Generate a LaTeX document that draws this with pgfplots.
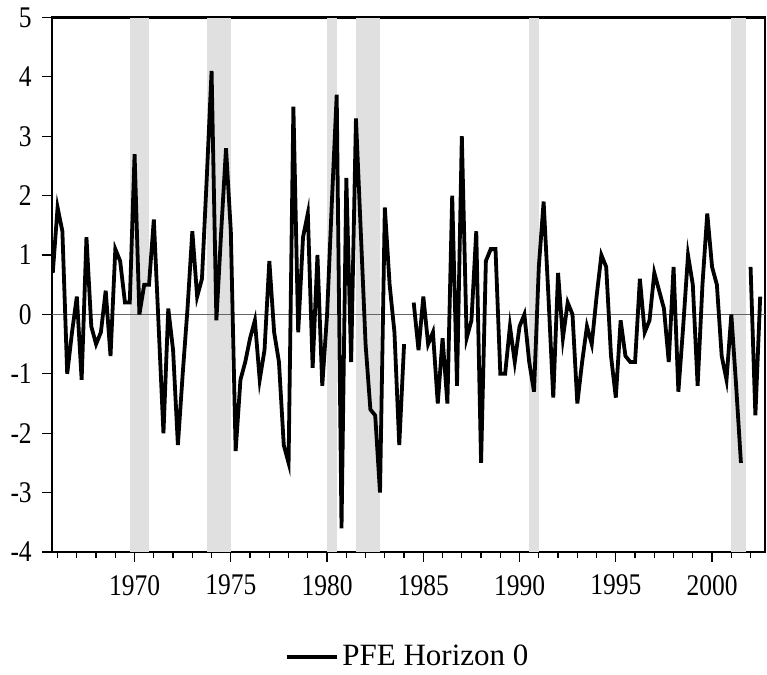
\documentclass[border=0pt]{standalone}
\usepackage{fontspec}
\setmainfont{Liberation Serif}
\usepackage{pgfplots}
\pgfplotsset{compat=1.18}
\usepackage{pgfplotstable}
\definecolor{bandgray}{RGB}{224,224,224}
\definecolor{zerogray}{RGB}{100,100,100}

\pgfplotstableread{
x y
1965.75 0.7
1966.00 1.8
1966.25 1.4
1966.50 -1.0
1966.75 -0.3
1967.00 0.3
1967.25 -1.1
1967.50 1.3
1967.75 -0.2
1968.00 -0.5
1968.25 -0.3
1968.50 0.4
1968.75 -0.7
1969.00 1.1
1969.25 0.9
1969.50 0.2
1969.75 0.2
1970.00 2.7
1970.25 0.0
1970.50 0.5
1970.75 0.5
1971.00 1.6
1971.25 -0.2
1971.50 -2.0
1971.75 0.1
1972.00 -0.6
1972.25 -2.2
1972.50 -1.0
1972.75 0.1
1973.00 1.4
1973.25 0.3
1973.50 0.6
1973.75 2.3
1974.00 4.1
1974.25 -0.1
1974.50 1.4
1974.75 2.8
1975.00 1.4
1975.25 -2.3
1975.50 -1.1
1975.75 -0.8
1976.00 -0.4
1976.25 -0.1
1976.50 -1.1
1976.75 -0.6
1977.00 0.9
1977.25 -0.3
1977.50 -0.8
1977.75 -2.2
1978.00 -2.5
1978.25 3.5
1978.50 -0.3
1978.75 1.3
1979.00 1.7
1979.25 -0.9
1979.50 1.0
1979.75 -1.2
1980.00 0.0
1980.25 1.9
1980.50 3.7
1980.75 -3.6
1981.00 2.3
1981.25 -0.8
1981.50 3.3
1981.75 1.4
1982.00 -0.5
1982.25 -1.6
1982.50 -1.7
1982.75 -3.0
1983.00 1.8
1983.25 0.5
1983.50 -0.3
1983.75 -2.2
1984.00 -0.5
1984.25 nan
1984.50 0.2
1984.75 -0.6
1985.00 0.3
1985.25 -0.5
1985.50 -0.3
1985.75 -1.5
1986.00 -0.4
1986.25 -1.5
1986.50 2.0
1986.75 -1.2
1987.00 3.0
1987.25 -0.4
1987.50 -0.1
1987.75 1.4
1988.00 -2.5
1988.25 0.9
1988.50 1.1
1988.75 1.1
1989.00 -1.0
1989.25 -1.0
1989.50 -0.2
1989.75 -0.8
1990.00 -0.2
1990.25 0.0
1990.50 -0.8
1990.75 -1.3
1991.00 0.8
1991.25 1.9
1991.50 0.3
1991.75 -1.4
1992.00 0.7
1992.25 -0.4
1992.50 0.2
1992.75 0.0
1993.00 -1.5
1993.25 -0.8
1993.50 -0.2
1993.75 -0.5
1994.00 0.3
1994.25 1.0
1994.50 0.8
1994.75 -0.7
1995.00 -1.4
1995.25 -0.1
1995.50 -0.7
1995.75 -0.8
1996.00 -0.8
1996.25 0.6
1996.50 -0.3
1996.75 -0.1
1997.00 0.7
1997.25 0.4
1997.50 0.1
1997.75 -0.8
1998.00 0.8
1998.25 -1.3
1998.50 -0.2
1998.75 1.0
1999.00 0.5
1999.25 -1.2
1999.50 0.5
1999.75 1.7
2000.00 0.8
2000.25 0.5
2000.50 -0.7
2000.75 -1.1
2001.00 0.0
2001.25 -1.2
2001.50 -2.5
2001.75 nan
2002.00 0.8
2002.25 -1.7
2002.50 0.3
}\pfedata

\begin{document}
\begin{tikzpicture}
\useasboundingbox (0,0) rectangle (383.5pt,337.5pt);
\begin{axis}[
  at={(26pt,61.5pt)}, anchor=south west,
  scale only axis, width=356.5pt, height=267.25pt,
  xmin=1965.71, xmax=2002.75, ymin=-4, ymax=5,
  axis line style={line width=1.4pt},
  tick align=outside, tick pos=left,
  xtick={1970,1975,1980,1985,1990,1995,2000},
  xticklabels={1970,1975,1980,1985,1990,1995,2000},
  minor xtick={1966,1967,1968,1969,1971,1972,1973,1974,1976,1977,1978,1979,1981,1982,1983,1984,1986,1987,1988,1989,1991,1992,1993,1994,1996,1997,1998,1999,2001,2002},
  ytick={-4,-3,-2,-1,0,1,2,3,4,5},
  yticklabels={-4,-3,-2,-1,0,1,2,3,4,5},
  major tick length=5pt, minor tick length=3pt,
  every tick/.style={black, line width=0.6pt},
  tick label style={font=\fontsize{15}{17}\selectfont, xscale=0.85},
  xticklabel style={yshift=-3pt},
  yticklabel style={xshift=-2.5pt},
  unbounded coords=jump,
  legend style={draw=none, at={(0.5,-0.196)}, anchor=center, font=\fontsize{15.5}{17}\selectfont, inner sep=0pt},
  legend image code/.code={\draw[#1] (0pt,0pt) -- (25pt,0pt);},
  clip=true,
]
\addplot[fill=bandgray, draw=none, forget plot] coordinates {(1969.75,-4) (1969.75,5) (1970.75,5) (1970.75,-4)} -- cycle;
\addplot[fill=bandgray, draw=none, forget plot] coordinates {(1973.75,-4) (1973.75,5) (1975.0,5) (1975.0,-4)} -- cycle;
\addplot[fill=bandgray, draw=none, forget plot] coordinates {(1980.0,-4) (1980.0,5) (1980.5,5) (1980.5,-4)} -- cycle;
\addplot[fill=bandgray, draw=none, forget plot] coordinates {(1981.5,-4) (1981.5,5) (1982.75,5) (1982.75,-4)} -- cycle;
\addplot[fill=bandgray, draw=none, forget plot] coordinates {(1990.5,-4) (1990.5,5) (1991.0,5) (1991.0,-4)} -- cycle;
\addplot[fill=bandgray, draw=none, forget plot] coordinates {(2001.0,-4) (2001.0,5) (2001.75,5) (2001.75,-4)} -- cycle;
\addplot[draw=zerogray, line width=0.6pt, forget plot] coordinates {(1965.71,0) (2002.75,0)};
\addplot[black, line width=1.9pt, mark=none] table[x=x,y=y] {\pfedata};
\addlegendentry{PFE Horizon 0}
\end{axis}
\end{tikzpicture}
\end{document}
